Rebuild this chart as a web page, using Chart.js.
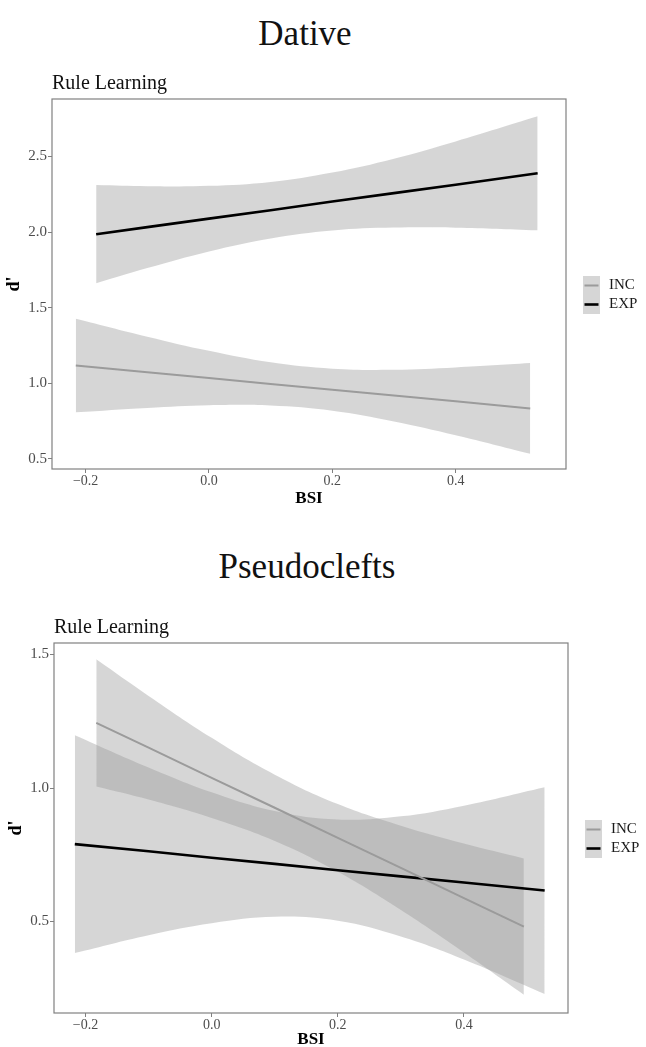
<!DOCTYPE html>
<html lang="en">
<head>
  <meta charset="UTF-8">
  <meta name="viewport" content="width=device-width, initial-scale=1.0">
  <title>Dative / Pseudoclefts - Rule Learning</title>
  <script src="https://cdn.jsdelivr.net/npm/chart.js"></script>
  <style>
    body { margin: 0; background: #fff; width: 646px; height: 1047px; position: relative; overflow: hidden; }
    .big { position: absolute; left: 0; font-family: 'Liberation Serif', serif; font-size: 35px; line-height: 35px; color: #111; text-align: center; }
    canvas { position: absolute; left: 0; }
  </style>
</head>
<body>
  <div class="big" style="width:610px; top:16px;">Dative</div>
  <canvas id="dativeChart" width="646" height="450" style="top:60px"></canvas>
  <div class="big" style="width:614px; top:549px;">Pseudoclefts</div>
  <canvas id="pseudoChart" width="646" height="460" style="top:590px"></canvas>

  <script>
    const groups = ['INC', 'EXP'];
    const xTicks = [-0.2, 0.0, 0.2, 0.4];

    // Dative
    const dativeYTicks = [0.5, 1.0, 1.5, 2.0, 2.5];
    const datIncX     = [-0.216, -0.1, 0.0, 0.1, 0.2, 0.3, 0.4, 0.521];
    const datIncFit   = [1.117, 1.072, 1.034, 0.995, 0.957, 0.918, 0.880, 0.833];
    const datIncUpper = [1.427, 1.308, 1.214, 1.138, 1.096, 1.089, 1.104, 1.133];
    const datIncLower = [0.807, 0.836, 0.854, 0.852, 0.818, 0.747, 0.656, 0.533];
    const datExpX     = [-0.183, -0.1, 0.0, 0.1, 0.2, 0.3, 0.4, 0.533];
    const datExpFit   = [1.986, 2.033, 2.089, 2.145, 2.202, 2.258, 2.314, 2.389];
    const datExpUpper = [2.311, 2.304, 2.306, 2.332, 2.394, 2.486, 2.600, 2.766];
    const datExpLower = [1.662, 1.762, 1.872, 1.958, 2.011, 2.030, 2.029, 2.012];

    // Pseudoclefts
    const pseudoYTicks = [0.5, 1.0, 1.5];
    const psIncX     = [-0.183, -0.1, 0.0, 0.1, 0.2, 0.3, 0.4, 0.495];
    const psIncFit   = [1.244, 1.151, 1.038, 0.926, 0.813, 0.701, 0.588, 0.481];
    const psIncUpper = [1.482, 1.345, 1.188, 1.050, 0.940, 0.859, 0.792, 0.736];
    const psIncLower = [1.006, 0.957, 0.888, 0.802, 0.686, 0.543, 0.384, 0.226];
    const psExpX     = [-0.217, -0.1, 0.0, 0.1, 0.2, 0.3, 0.4, 0.528];
    const psExpFit   = [0.790, 0.763, 0.739, 0.716, 0.692, 0.669, 0.646, 0.616];
    const psExpUpper = [1.198, 1.077, 0.984, 0.914, 0.882, 0.894, 0.934, 1.003];
    const psExpLower = [0.382, 0.449, 0.494, 0.518, 0.503, 0.444, 0.358, 0.229];

    const lineColors = { INC: '#9b9b9b', EXP: '#000000' };
    const lineWidths = { INC: 2, EXP: 2.6 };
    const bandFill = 'rgba(153,153,153,0.4)';

    Chart.defaults.font.family = "'Liberation Serif', 'Times New Roman', serif";

    const pts = (xs, ys) => xs.map((x, i) => ({ x: x, y: ys[i] }));
    const fmt = v => Number(v).toFixed(1).replace('-', '\u2212');

    // border round the panel, "Rule Learning" and the key on the right
    const panelDecor = {
      id: 'panelDecor',
      afterDatasetsDraw(chart) {
        const { ctx, chartArea: a } = chart;
        ctx.save();
        ctx.strokeStyle = '#808080';
        ctx.lineWidth = 1.2;
        ctx.strokeRect(a.left, a.top, a.right - a.left, a.bottom - a.top);

        ctx.fillStyle = '#111';
        ctx.font = "20px 'Liberation Serif'";
        ctx.textBaseline = 'alphabetic';
        ctx.textAlign = 'left';
        ctx.fillText('Rule Learning', a.left, a.top - 10);

        const keyW = 17, keyH = 19;
        const x0 = a.right + 17;
        const y0 = (a.top + a.bottom) / 2 + 11 - keyH;
        ctx.font = "15px 'Liberation Serif'";
        ctx.textBaseline = 'middle';
        groups.forEach((g, i) => {
          const ky = y0 + i * keyH;
          ctx.fillStyle = '#d6d6d6';
          ctx.fillRect(x0, ky, keyW, keyH);
          ctx.strokeStyle = lineColors[g];
          ctx.lineWidth = lineWidths[g];
          ctx.beginPath();
          ctx.moveTo(x0 + 1.5, ky + keyH / 2);
          ctx.lineTo(x0 + keyW - 1.5, ky + keyH / 2);
          ctx.stroke();
          ctx.fillStyle = '#1a1a1a';
          ctx.fillText(g, x0 + keyW + 9, ky + keyH / 2);
        });
        ctx.restore();
      }
    };

    function makeChart(id, d) {
      return new Chart(document.getElementById(id), {
        type: 'line',
        data: {
          datasets: [
            { label: 'INC', data: pts(d.incX, d.incFit), borderColor: lineColors.INC, borderWidth: lineWidths.INC, fill: false, order: 0 },
            { label: 'EXP', data: pts(d.expX, d.expFit), borderColor: lineColors.EXP, borderWidth: lineWidths.EXP, fill: false, order: 0 },
            { label: 'INC upper', data: pts(d.incX, d.incUpper), borderColor: 'rgba(0,0,0,0)', borderWidth: 0, backgroundColor: bandFill, fill: '+1', tension: 0.4, order: 1 },
            { label: 'INC lower', data: pts(d.incX, d.incLower), borderColor: 'rgba(0,0,0,0)', borderWidth: 0, fill: false, tension: 0.4, order: 1 },
            { label: 'EXP upper', data: pts(d.expX, d.expUpper), borderColor: 'rgba(0,0,0,0)', borderWidth: 0, backgroundColor: bandFill, fill: '+1', tension: 0.4, order: 1 },
            { label: 'EXP lower', data: pts(d.expX, d.expLower), borderColor: 'rgba(0,0,0,0)', borderWidth: 0, fill: false, tension: 0.4, order: 1 }
          ]
        },
        options: {
          responsive: false,
          animation: false,
          layout: { padding: { top: d.padTop, right: d.padRight, left: 0, bottom: 0 } },
          elements: { point: { radius: 0, hoverRadius: 0 } },
          plugins: { legend: { display: false }, tooltip: { enabled: false } },
          scales: {
            x: {
              type: 'linear',
              min: d.xMin,
              max: d.xMax,
              afterBuildTicks: s => { s.ticks = xTicks.map(v => ({ value: v })); },
              afterFit: s => { s.height = d.xAxisH; },
              ticks: { callback: fmt, color: '#4d4d4d', font: { size: 14 }, padding: 0, maxRotation: 0, autoSkip: false },
              grid: { drawOnChartArea: false, drawTicks: true, tickLength: 4, tickColor: '#808080' },
              border: { display: false },
              title: { display: true, text: 'BSI', color: '#000', font: { size: 17, weight: 'bold' }, padding: { top: 0, bottom: d.xTitlePad } }
            },
            y: {
              min: d.yMin,
              max: d.yMax,
              afterBuildTicks: s => { s.ticks = d.yTicks.map(v => ({ value: v })); },
              afterFit: s => { s.width = d.yAxisW; },
              ticks: { callback: fmt, color: '#4d4d4d', font: { size: 15 }, padding: 1, autoSkip: false },
              grid: { drawOnChartArea: false, drawTicks: true, tickLength: 4, tickColor: '#808080' },
              border: { display: false },
              title: { display: true, text: "d'", color: '#000', font: { size: 18, weight: 'bold' }, padding: { top: d.yTitlePad, bottom: 0 } }
            }
          }
        },
        plugins: [panelDecor]
      });
    }

    makeChart('dativeChart', {
      incX: datIncX, incFit: datIncFit, incUpper: datIncUpper, incLower: datIncLower,
      expX: datExpX, expFit: datExpFit, expUpper: datExpUpper, expLower: datExpLower,
      yTicks: dativeYTicks,
      xMin: -0.2546, xMax: 0.579, yMin: 0.432, yMax: 2.881,
      padTop: 39, padRight: 80, xAxisH: 41, yAxisW: 52, xTitlePad: 1, yTitlePad: 4
    });

    makeChart('pseudoChart', {
      incX: psIncX, incFit: psIncFit, incUpper: psIncUpper, incLower: psIncLower,
      expX: psExpX, expFit: psExpFit, expUpper: psExpUpper, expLower: psExpLower,
      yTicks: pseudoYTicks,
      xMin: -0.25, xMax: 0.565, yMin: 0.1575, yMax: 1.543,
      padTop: 53, padRight: 78, xAxisH: 37, yAxisW: 54, xTitlePad: 0, yTitlePad: 6
    });
  </script>
</body>
</html>
